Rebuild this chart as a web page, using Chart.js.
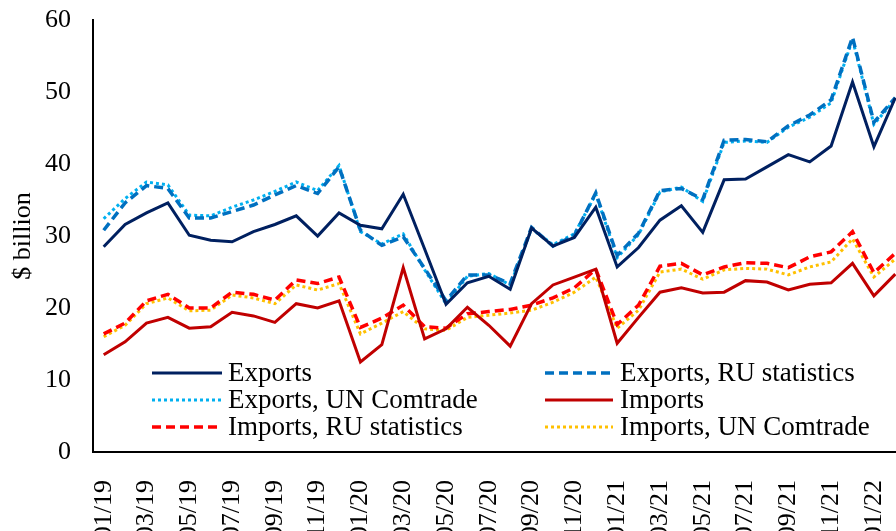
<!DOCTYPE html>
<html>
<head>
<meta charset="utf-8">
<script src="https://cdn.jsdelivr.net/npm/chart.js@4/dist/chart.umd.min.js"></script>
<style>
  html, body { margin: 0; padding: 0; background: #fff; overflow: hidden; }
  #wrap { width: 896px; height: 531px; overflow: hidden; }
  canvas { display: block; }
</style>
</head>
<body>
<div id="wrap"><canvas id="tradeChart" width="910" height="531"></canvas></div>
<script>
// --- Data ---
const months = ['01/19','02/19','03/19','04/19','05/19','06/19','07/19','08/19','09/19','10/19','11/19','12/19',
                '01/20','02/20','03/20','04/20','05/20','06/20','07/20','08/20','09/20','10/20','11/20','12/20',
                '01/21','02/21','03/21','04/21','05/21','06/21','07/21','08/21','09/21','10/21','11/21','12/21',
                '01/22','02/22'];

const exports = [28.5, 31.6, 33.2, 34.6, 30.1, 29.4, 29.2, 30.6, 31.6, 32.8, 30.0, 33.2,
                 31.5, 31.0, 35.8, 28.2, 20.5, 23.5, 24.4, 22.6, 31.1, 28.6, 29.8, 34.0,
                 25.7, 28.4, 32.2, 34.2, 30.5, 37.8, 37.9, 39.6, 41.3, 40.3, 42.5, 51.4,
                 42.4, 49.2];
const exportsRU = [30.8, 34.6, 37.0, 36.6, 32.5, 32.5, 33.4, 34.3, 35.7, 37.0, 35.9, 39.6,
                   30.8, 28.7, 29.9, 25.5, 21.0, 24.6, 24.6, 23.4, 31.2, 28.6, 30.1, 36.0,
                   27.3, 30.4, 36.3, 36.6, 35.1, 43.3, 43.4, 43.1, 45.3, 46.8, 48.9, 57.6,
                   45.8, 49.2];
const exportsUN = [32.4, 35.2, 37.5, 37.1, 32.9, 32.8, 34.0, 35.0, 36.2, 37.5, 36.3, 39.8,
                   30.6, 28.9, 30.3, 25.3, 20.6, 24.4, 24.8, 23.2, 31.0, 28.8, 30.3, 35.8,
                   27.0, 30.2, 36.1, 36.8, 34.8, 43.0, 43.2, 43.0, 45.1, 46.5, 48.5, 57.3,
                   45.5, 49.0];
const imports = [13.5, 15.3, 17.9, 18.7, 17.2, 17.4, 19.4, 18.9, 18.0, 20.6, 20.0, 21.0,
                 12.5, 14.9, 25.6, 15.7, 17.1, 20.1, 17.6, 14.7, 20.6, 23.2, 24.3, 25.4,
                 15.1, 18.7, 22.2, 22.8, 22.1, 22.2, 23.8, 23.6, 22.5, 23.3, 23.5, 26.2,
                 21.7, 24.7];
const importsRU = [16.4, 17.9, 21.0, 21.9, 20.0, 20.0, 22.2, 21.9, 21.1, 23.9, 23.4, 24.3,
                   17.3, 18.6, 20.4, 17.4, 17.2, 19.2, 19.5, 19.8, 20.4, 21.4, 22.8, 25.4,
                   17.7, 20.4, 25.8, 26.2, 24.6, 25.7, 26.3, 26.2, 25.6, 27.1, 27.8, 30.6,
                   24.9, 27.6];
const importsUN = [16.0, 17.6, 20.6, 21.4, 19.6, 19.7, 21.8, 21.4, 20.6, 23.2, 22.5, 23.4,
                   16.4, 17.9, 19.5, 17.1, 16.9, 18.7, 19.0, 19.3, 19.7, 20.8, 22.2, 24.3,
                   17.2, 19.7, 25.0, 25.4, 24.0, 25.3, 25.5, 25.4, 24.6, 25.7, 26.4, 29.6,
                   24.3, 26.8];

const yTicks = [0, 10, 20, 30, 40, 50, 60];

// --- Styles ---
const FONT = 'Liberation Serif, Times New Roman, serif';

function series(label, data, color, dash, width) {
    return {
        label: label,
        data: data,
        borderColor: color,
        backgroundColor: color,
        borderDash: dash,
        borderWidth: width,
        pointRadius: 0,
        tension: 0,
        fill: false
    };
}

// no extra room for overhanging tick labels, the frame is set by hand
function noPad(scale) {
    scale.paddingTop = 0;
    scale.paddingBottom = 0;
    scale.paddingLeft = 0;
    scale.paddingRight = 0;
}

// Legend inside the plot, two columns, drawn from dataset styles
const innerLegend = {
    id: 'innerLegend',
    afterDraw(chart) {
        const ctx = chart.ctx;
        const cols = [{ x0: 152, x1: 222, tx: 228 }, { x0: 545, x1: 613, tx: 620 }];
        const rows = [373, 400, 427];
        ctx.save();
        ctx.font = '27px ' + FONT;
        ctx.textBaseline = 'middle';
        ctx.fillStyle = '#000';
        chart.data.datasets.forEach((ds, i) => {
            const c = cols[i % 2];
            const y = rows[Math.floor(i / 2)];
            ctx.beginPath();
            ctx.strokeStyle = ds.borderColor;
            ctx.lineWidth = ds.borderWidth;
            ctx.setLineDash(ds.borderDash);
            ctx.moveTo(c.x0, y);
            ctx.lineTo(c.x1, y);
            ctx.stroke();
            ctx.setLineDash([]);
            ctx.fillText(ds.label, c.tx, y + 1);
        });
        ctx.restore();
    }
};

const ctx = document.getElementById('tradeChart').getContext('2d');
new Chart(ctx, {
    type: 'line',
    data: {
        labels: months,
        datasets: [
            series('Exports', exports, '#002060', [], 3),
            series('Exports, RU statistics', exportsRU, '#0070C0', [9, 5], 3.5),
            series('Exports, UN Comtrade', exportsUN, '#00B0F0', [3, 3], 3),
            series('Imports', imports, '#C00000', [], 3),
            series('Imports, RU statistics', importsRU, '#FF0000', [9, 5], 3.5),
            series('Imports, UN Comtrade', importsUN, '#FFC000', [3, 3], 3)
        ]
    },
    options: {
        responsive: false,
        animation: false,
        layout: { padding: { top: 20, right: 4, left: 0, bottom: 0 } },
        plugins: {
            legend: { display: false },
            tooltip: { enabled: false }
        },
        scales: {
            x: {
                offset: true,
                grid: { display: false },
                border: { display: true, color: '#000', width: 2 },
                ticks: {
                    autoSkip: false,
                    maxRotation: 90,
                    minRotation: 90,
                    padding: 20,
                    color: '#000',
                    font: { family: FONT, size: 26 },
                    callback: function (val, i) { return i % 2 === 0 ? months[i] : ''; }
                },
                afterFit(scale) { scale.height = 79; noPad(scale); }
            },
            y: {
                min: 0,
                max: 60,
                afterBuildTicks(scale) { scale.ticks = yTicks.map(v => ({ value: v })); },
                grid: { display: false },
                border: { display: true, color: '#000', width: 2 },
                ticks: {
                    padding: 14,
                    color: '#000',
                    font: { family: FONT, size: 26 }
                },
                title: {
                    display: true,
                    text: '$ billion',
                    color: '#000',
                    font: { family: FONT, size: 26 },
                    padding: { top: 8, bottom: 0 }
                },
                afterFit(scale) { scale.width = 93; noPad(scale); }
            }
        }
    },
    plugins: [innerLegend]
});
</script>
</body>
</html>
